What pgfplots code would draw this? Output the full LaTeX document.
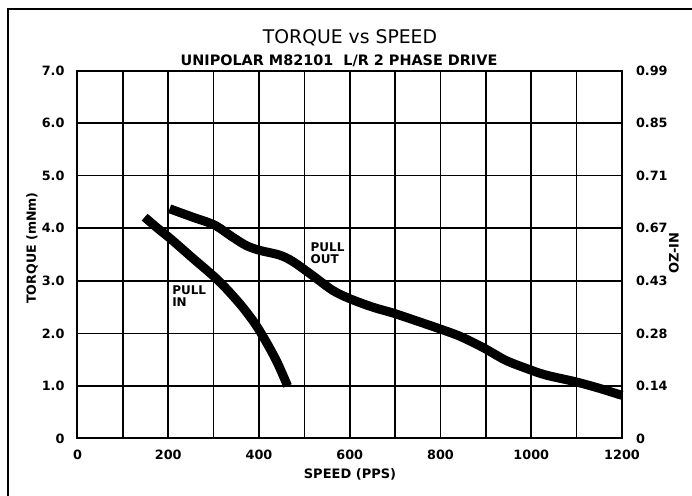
\documentclass[border=0pt]{standalone}
\usepackage{fontspec}
\setmainfont{DejaVu Sans}
\usepackage{pgfplots}
\pgfplotsset{compat=1.18}
\begin{document}
\begin{tikzpicture}[x=1pt,y=1pt]
\useasboundingbox (0,0) rectangle (346,248);
\draw[line width=1.2pt] (4,-20) -- (4,243.5) -- (360,243.5);
\node[font=\fontsize{9.4}{11}\selectfont] at (175,229) {TORQUE vs SPEED};
\node[font=\bfseries\fontsize{7.2}{9}\selectfont] at (169.5,217.5) {UNIPOLAR M82101\ \ L/R 2 PHASE DRIVE};
\node[font=\bfseries\fontsize{6.5}{8}\selectfont] at (175,11) {SPEED (PPS)};
\node[font=\bfseries\fontsize{6.3}{8}\selectfont, rotate=90] at (16,124) {TORQUE (mNm)};
\node[font=\bfseries\fontsize{6.5}{8}\selectfont, rotate=90] at (337,121.5) {OZ-IN};
\begin{axis}[
  at={(38.75pt,28.75pt)}, anchor=south west,
  scale only axis, width=272.25pt, height=184pt,
  xmin=0, xmax=1200, ymin=0, ymax=7,
  xtick={0,100,...,1200},
  xticklabels={0,,200,,400,,600,,800,,1000,,1200},
  ytick={0,1,...,7},
  yticklabels={0,1.0,2.0,3.0,4.0,5.0,6.0,7.0},
  grid=major,
  major grid style={black, line width=0.8pt},
  axis line style={line width=1pt},
  major tick length=0pt,
  tick label style={font=\bfseries\fontsize{6.4}{7}\selectfont},
  yticklabel style={xshift=-3pt},
  xticklabel style={yshift=-2pt},
  /pgf/number format/assume math mode=true,
  clip=false,
]
\addplot[black, line width=4.5pt, smooth] coordinates {
 (148,4.21) (175,4.01) (205,3.80) (254,3.43) (311,3.00) (357,2.57) (390,2.20) (415,1.85) (440,1.45) (463,1.00)
};
\addplot[black, line width=4.5pt, smooth] coordinates {
 (203,4.37) (254,4.21) (302,4.06) (342,3.83) (372,3.67) (401,3.58) (445,3.49) (474,3.37) (518,3.10) (562,2.82) (600,2.66) (650,2.50) (698,2.38) (753,2.22) (797,2.09) (844,1.94) (896,1.72) (943,1.49) (987,1.34) (1031,1.21) (1097,1.08) (1148,0.96) (1200,0.82)
};
\node[anchor=north west, align=left, inner sep=0pt, font=\bfseries\fontsize{6}{6.2}\selectfont] at (axis cs:208,2.92) {PULL\\IN};
\node[anchor=north west, align=left, inner sep=0pt, font=\bfseries\fontsize{6}{6.2}\selectfont] at (axis cs:513,3.73) {PULL\\OUT};
\end{axis}
\begin{axis}[
  at={(38.75pt,28.75pt)}, anchor=south west,
  scale only axis, width=272.25pt, height=184pt,
  xmin=0, xmax=1200, ymin=0, ymax=7,
  axis x line=none, axis y line*=right,
  ytick={0,1,...,7},
  yticklabels={0,0.14,0.28,0.43,0.67,0.71,0.85,0.99},
  major tick length=0pt,
  axis line style={line width=1pt},
  tick label style={font=\bfseries\fontsize{6.4}{7}\selectfont},
  yticklabel style={xshift=3.5pt},
]
\addplot[draw=none] coordinates {(0,0)};
\end{axis}
\end{tikzpicture}
\end{document}
